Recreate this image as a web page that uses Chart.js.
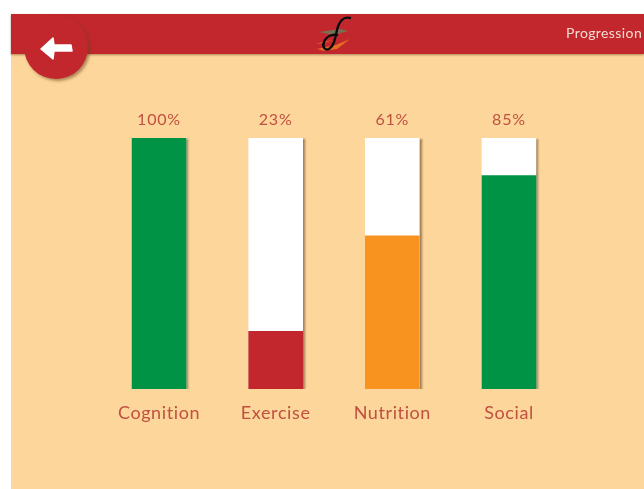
<!DOCTYPE html>
<html lang="en">
<head>
  <meta charset="UTF-8">
  <title>Progression</title>
  <script src="https://cdn.jsdelivr.net/npm/chart.js"></script>
  <style>
    html, body {
      margin: 0;
      padding: 0;
      background: #fff;
      overflow: hidden;
    }
    #screen {
      position: absolute;
      left: 11px;
      top: 14px;
      width: 633px;
      height: 475px;
      background: #fdd69b;
    }
    #header {
      position: absolute;
      left: 11px;
      top: 14px;
      width: 633px;
      height: 40px;
      background: #c1272d;
      box-shadow: 0 1px 2px rgba(110, 70, 30, 0.55);
    }
    #backButton {
      position: absolute;
      left: 24px;
      top: 15px;
      width: 64px;
      height: 64px;
      border-radius: 50%;
      background: #c1272d;
      box-shadow: 2px 2px 3px rgba(110, 70, 30, 0.55);
    }
    #title {
      position: absolute;
      left: 566px;
      top: 24px;
      color: #f6dcd0;
      font: 14px Lato, sans-serif;
      letter-spacing: 0.4px;
      white-space: nowrap;
    }
    #logo, #arrow, #chart {
      position: absolute;
    }
    #logo { left: 310px; top: 10px; }
    #arrow { left: 24px; top: 15px; }
    #chart { left: 0; top: 0; }
  </style>
</head>
<body>
  <div id="screen"></div>
  <canvas id="chart" width="644" height="489"></canvas>

  <div id="header"></div>
  <div id="backButton"></div>
  <svg id="arrow" width="64" height="64">
    <path d="M17 34 L29 23 L30 30 L47 30 L48 36 L30 36 L29 44 Z" fill="#fff" stroke="#fff" stroke-linejoin="round" stroke-width="1.5"/>
  </svg>
  <svg id="logo" width="50" height="50">
    <!-- logo streaks -->
    <path d="M9 22 L30 19 L38 21 L24 25 Z" fill="#4f9a6a" opacity="0.65"/>
    <path d="M5 34 L22 30 L14 33 Z" fill="#f7931e" opacity="0.8"/>
    <path d="M7 39 L26 35 L40 29 L27 39 L14 41 Z" fill="#f7931e" opacity="0.65"/>
    <!-- logo glyph -->
    <path d="M40 8 C33 6 29 12 27 20 C25 29 24 36 19 39 C15 41 12 37 14 32 C16 27 21 24 27 25" fill="none" stroke="#0b0b0b" stroke-width="2.4" stroke-linecap="round"/>
  </svg>
  <div id="title">Progression</div>

  <script>
    // Scores per area
    const categories = ['Cognition', 'Exercise', 'Nutrition', 'Social'];
    const scores = [100, 23, 61, 85];
    const trackValues = [100, 100, 100, 100];
    const barColors = ['#009245', '#c1272d', '#f7931e', '#009245'];
    const labelColor = '#c1503f';

    // Wider tracking for all canvas text
    const textSpacing = {
      id: 'textSpacing',
      beforeDraw(chart) {
        chart.ctx.letterSpacing = '0.6px';
      }
    };

    // Soft shadow on the white tracks
    const trackShadow = {
      id: 'trackShadow',
      beforeDatasetDraw(chart, args) {
        if (args.index === 1) {
          chart.ctx.save();
          chart.ctx.shadowColor = 'rgba(90, 60, 30, 0.6)';
          chart.ctx.shadowOffsetX = 2;
          chart.ctx.shadowOffsetY = 1;
          chart.ctx.shadowBlur = 2;
        }
      },
      afterDatasetDraw(chart, args) {
        if (args.index === 1) chart.ctx.restore();
      }
    };

    // Percent text above each bar
    const percentLabels = {
      id: 'percentLabels',
      afterDatasetsDraw(chart) {
        const ctx = chart.ctx;
        const x = chart.scales.x;
        const y = chart.scales.y;
        ctx.save();
        ctx.font = '16px Lato, sans-serif';
        ctx.letterSpacing = '0.8px';
        ctx.fillStyle = labelColor;
        ctx.textAlign = 'center';
        ctx.textBaseline = 'middle';
        scores.forEach((score, i) => {
          ctx.fillText(score + '%', x.getPixelForValue(i), y.getPixelForValue(100) - 18);
        });
        ctx.restore();
      }
    };

    new Chart(document.getElementById('chart'), {
      type: 'bar',
      data: {
        labels: categories,
        datasets: [
          { data: scores, backgroundColor: barColors, barThickness: 54, order: 1, grouped: false },
          { data: trackValues, backgroundColor: '#ffffff', barThickness: 54, order: 2, grouped: false }
        ]
      },
      options: {
        responsive: false,
        animation: false,
        layout: { padding: { left: 100.7, right: 76.7, top: 138, bottom: 60 } },
        plugins: { legend: { display: false }, tooltip: { enabled: false } },
        scales: {
          x: {
            grid: { display: false },
            border: { display: false },
            afterFit(axis) { axis.height = 40; },
            ticks: {
              color: labelColor,
              font: { family: 'Lato, sans-serif', size: 18 },
              padding: 5,
              maxRotation: 0
            }
          },
          y: { display: false, min: 0, max: 100 }
        }
      },
      plugins: [textSpacing, trackShadow, percentLabels]
    });
  </script>
</body>
</html>
